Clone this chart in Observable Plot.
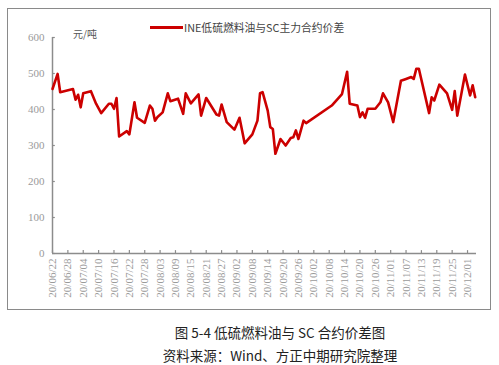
<!DOCTYPE html>
<html>
<head>
<meta charset="utf-8">
<script src="https://cdn.jsdelivr.net/npm/d3@7"></script>
<script src="https://cdn.jsdelivr.net/npm/@observablehq/plot@0.6"></script>
<style>
  html, body { margin: 0; padding: 0; background: #fff; }
  #wrap { position: relative; width: 499px; height: 365px; overflow: hidden; font-family: "Noto Sans CJK SC", "Noto Sans", sans-serif; }
  #frame { position: absolute; left: 7px; top: 8px; width: 482px; height: 300px; border: 1.5px solid #8a8a8a; pointer-events: none; }
  #chart { position: absolute; left: 0; top: 0; }
  .legend { position: absolute; left: 150px; top: 19px; font-size: 10.8px; color: #444; white-space: nowrap; display: flex; align-items: center; }
  .legend .swatch { display: inline-block; width: 33px; height: 3px; background: #cc0000; margin-right: 1px; }
  .unit { position: absolute; left: 73px; top: 26px; font-size: 10px; color: #555; }
  .cap { position: absolute; left: 80px; width: 400px; text-align: center; font-size: 13.5px; color: #222; white-space: nowrap; }
</style>
</head>
<body>
<div id="wrap">
  <div id="chart"></div>
  <div id="frame"></div>
  <div class="legend"><span class="swatch"></span><span id="seriesName"></span></div>
  <div class="unit" id="unit"></div>
  <div class="cap" id="cap1" style="top:322px"></div>
  <div class="cap" id="cap2" style="top:345px"></div>
</div>
<script>
const seriesName = "INE低硫燃料油与SC主力合约价差";
const unitLabel = "元/吨";
const caption1 = "图 5-4  低硫燃料油与 SC 合约价差图";
const caption2 = "资料来源：Wind、方正中期研究院整理";

const dates = [
  "2020-06-22","2020-06-24","2020-06-25","2020-06-30","2020-07-01","2020-07-02","2020-07-03","2020-07-04",
  "2020-07-07","2020-07-09","2020-07-11","2020-07-14","2020-07-15","2020-07-16","2020-07-17","2020-07-18",
  "2020-07-21","2020-07-22","2020-07-24","2020-07-25","2020-07-28","2020-07-30","2020-07-31","2020-08-01",
  "2020-08-02","2020-08-04","2020-08-06","2020-08-07","2020-08-10","2020-08-12","2020-08-13","2020-08-15",
  "2020-08-18","2020-08-19","2020-08-21","2020-08-25","2020-08-26","2020-08-27","2020-08-29","2020-09-01",
  "2020-09-03","2020-09-05","2020-09-08","2020-09-10","2020-09-11","2020-09-12","2020-09-14","2020-09-15",
  "2020-09-16","2020-09-17","2020-09-19","2020-09-21","2020-09-23","2020-09-24","2020-09-25","2020-09-26",
  "2020-09-28","2020-09-29","2020-10-09","2020-10-13","2020-10-15","2020-10-16","2020-10-19","2020-10-20",
  "2020-10-21","2020-10-22","2020-10-23","2020-10-26","2020-10-28","2020-10-29","2020-10-31","2020-11-02",
  "2020-11-05","2020-11-07","2020-11-09","2020-11-10","2020-11-11","2020-11-12","2020-11-16","2020-11-17",
  "2020-11-18","2020-11-20","2020-11-23","2020-11-25","2020-11-26","2020-11-27","2020-11-30","2020-12-02",
  "2020-12-03","2020-12-04"
];
const spread = [
  457,499,448,457,427,441,406,445,
  451,416,390,416,416,402,432,325,
  340,331,420,377,363,411,402,369,
  379,392,445,423,430,388,445,417,
  442,383,432,386,383,414,365,344,
  377,306,331,369,445,448,397,351,
  346,277,318,300,321,323,342,318,
  369,362,411,443,505,416,411,379,
  392,377,402,402,420,445,420,365,
  480,485,490,485,513,513,390,434,
  425,469,445,399,451,383,497,439,
  467,434
];
const xTickLabels = [
  "20/06/22","20/06/28","20/07/04","20/07/10","20/07/16","20/07/22","20/07/28",
  "20/08/03","20/08/09","20/08/15","20/08/21","20/08/27","20/09/02","20/09/08",
  "20/09/14","20/09/20","20/09/26","20/10/02","20/10/08","20/10/14","20/10/20",
  "20/10/26","20/11/01","20/11/07","20/11/13","20/11/19","20/11/25","20/12/01"
];
const yTicks = [0, 100, 200, 300, 400, 500, 600];

document.getElementById("seriesName").textContent = seriesName;
document.getElementById("unit").textContent = unitLabel;
document.getElementById("cap1").textContent = caption1;
document.getElementById("cap2").textContent = caption2;

const parseTick = d3.utcParse("%y/%m/%d");
const tickDates = xTickLabels.map(parseTick);
const data = dates.map((d, i) => ({date: new Date(d + "T00:00:00Z"), value: spread[i]}));
const xStart = tickDates[0];
const xEnd = new Date("2020-12-04T12:00:00Z");
const fmt = d3.utcFormat("%y/%m/%d");
const axisColor = "#8c8c8c";

const chart = Plot.plot({
  width: 499,
  height: 312,
  marginLeft: 52,
  marginRight: 23,
  marginTop: 37,
  marginBottom: 59,
  style: {background: "transparent", overflow: "visible"},
  x: {type: "utc", domain: [xStart, xEnd]},
  y: {domain: [0, 600]},
  marks: [
    Plot.axisY({ticks: yTicks, tickSize: 0, tickPadding: 8, label: null,
      fontFamily: "Liberation Serif, serif", fontSize: 11, fill: "#9a9a9a"}),
    Plot.axisX({ticks: tickDates, tickFormat: fmt, tickRotate: -90, tickSize: 0, tickPadding: 5, label: null,
      fontFamily: "Liberation Serif, serif", fontSize: 11, fill: "#9a9a9a"}),
    Plot.ruleX(tickDates, {x: d => d, y1: 0, y2: 8, stroke: axisColor, strokeWidth: 1.2}),
    Plot.ruleY(yTicks, {y: d => d, x1: xStart, x2: new Date(xStart.getTime() + 1.1 * 86400000), stroke: axisColor, strokeWidth: 1.2}),
    Plot.ruleY([0], {x1: xStart, x2: xEnd, stroke: axisColor, strokeWidth: 1.5}),
    Plot.ruleX([xStart], {y1: 0, y2: 600, stroke: axisColor, strokeWidth: 1.5}),
    Plot.line(data, {x: "date", y: "value", stroke: "#cc0000", strokeWidth: 2.6, strokeLinejoin: "round"})
  ]
});
document.getElementById("chart").appendChild(chart);
</script>
</body>
</html>
